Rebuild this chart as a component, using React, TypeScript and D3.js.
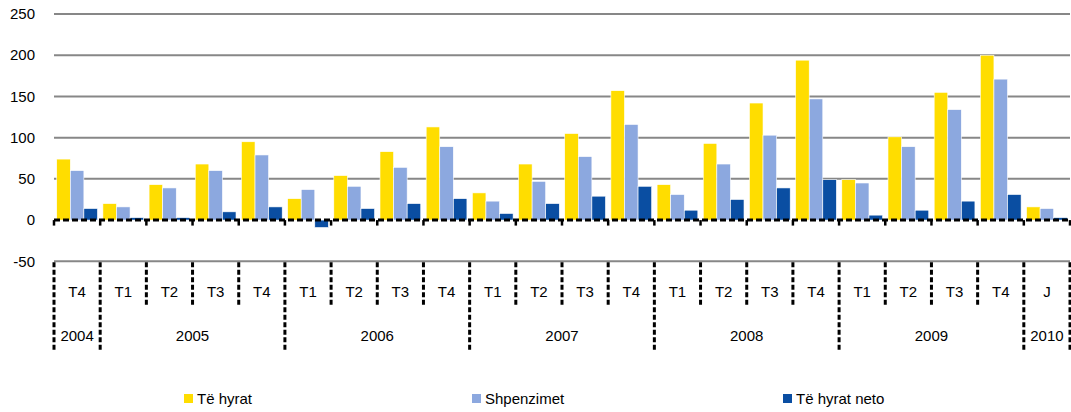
import React from "react";
import * as d3 from "d3";

const quarters = ["T4","T1","T2","T3","T4","T1","T2","T3","T4","T1","T2","T3","T4","T1","T2","T3","T4","T1","T2","T3","T4","J"];
const yearLabels = ["2004","2005","2006","2007","2008","2009","2010"];
const yearSpans = [1, 4, 4, 4, 4, 4, 1];
const seriesNames = ["Të hyrat", "Shpenzimet", "Të hyrat neto"];
const teHyrat = [74,20,43,68,95,26,54,83,113,33,68,105,157,43,93,142,194,49,101,155,200,16];
const shpenzimet = [60,16,39,60,79,37,41,64,89,23,47,77,116,31,68,103,147,45,89,134,171,14];
const teHyratNeto = [14,3,3,10,16,-9,14,20,26,8,20,29,41,12,25,39,49,6,12,23,31,3];
const yTicks = [-50, 0, 50, 100, 150, 200, 250];

const colors = ["#FFDD00", "#8CA8DF", "#0A4EA2"];
const W = 1071, H = 412;
const left = 54, right = 1070;
const font = "'Liberation Sans', Arial, Helvetica, sans-serif";

export default function App() {
  const series = [teHyrat, shpenzimet, teHyratNeto];
  const idx = quarters.map((_, i) => i);
  const x = d3.scaleBand<number>().domain(idx).range([left, right]).paddingInner(0).paddingOuter(0);
  const bw = x.bandwidth();
  const xs = d3.scaleBand<number>().domain([0, 1, 2]).range([0, bw]).paddingInner(0).paddingOuter(0.2);
  const y = d3.scaleLinear().domain([-50, 250]).range([261.3, 14]);
  const y0 = y(0);
  const bottom = y(-50);

  const boundaries = d3.range(quarters.length + 1).map(i => left + i * bw);
  const yearBounds: number[] = [0];
  yearSpans.forEach(s => yearBounds.push(yearBounds[yearBounds.length - 1] + s));

  const legendX = [184, 472, 783];

  return (
    <svg width={W} height={H} style={{ position: "absolute", left: 0, top: 0, background: "#fff" }}>
      {/* gridlines */}
      {yTicks.filter(t => t !== 0).map(t => (
        <line key={t} x1={left} x2={right} y1={y(t)} y2={y(t)} stroke="#878787" strokeWidth={2} />
      ))}
      {/* y labels */}
      {yTicks.map(t => (
        <text key={t} x={35} y={y(t)} dy="0.35em" textAnchor="end" fontFamily={font} fontSize={15} fill="#000">{t}</text>
      ))}
      {/* bars */}
      {series.map((vals, si) => (
        <g key={si}>
          {vals.map((v, i) => {
            const bx = (x(i) as number) + (xs(si) as number);
            const top = Math.min(y(v), y0);
            const h = Math.abs(y(v) - y0);
            return <rect key={i} x={bx} y={top} width={xs.bandwidth()} height={h} fill={colors[si]} stroke="#fff" strokeWidth={0.6} />;
          })}
        </g>
      ))}
      {/* zero dashed line */}
      <line x1={left} x2={right} y1={y0} y2={y0} stroke="#000" strokeWidth={3} strokeDasharray="6,3" />
      {boundaries.map((bx, i) => (
        <line key={"t" + i} x1={bx} x2={bx} y1={y0} y2={y0 + 5.5} stroke="#000" strokeWidth={2.5} />
      ))}
      {/* quarter separators */}
      {boundaries.map((bx, i) => {
        const isYear = yearBounds.includes(i);
        return (
          <line key={"q" + i} x1={bx} x2={bx} y1={bottom + 1} y2={isYear ? 350 : 305} stroke="#000" strokeWidth={3} strokeDasharray="5,2.5" />
        );
      })}
      {/* quarter labels */}
      {quarters.map((q, i) => (
        <text key={"ql" + i} x={(x(i) as number) + bw / 2} y={292} dy="0.35em" textAnchor="middle" fontFamily={font} fontSize={15} fill="#000">{q}</text>
      ))}
      {/* year labels */}
      {yearLabels.map((yl, i) => {
        const cx = left + ((yearBounds[i] + yearBounds[i + 1]) / 2) * bw;
        return (
          <text key={"yl" + i} x={cx} y={336} dy="0.35em" textAnchor="middle" fontFamily={font} fontSize={15} fill="#000">{yl}</text>
        );
      })}
      {/* legend */}
      {seriesNames.map((n, i) => (
        <g key={"lg" + i}>
          <rect x={legendX[i]} y={394} width={9} height={9} fill={colors[i]} />
          <text x={legendX[i] + 13} y={398.5} dy="0.35em" fontFamily={font} fontSize={15} fill="#000">{n}</text>
        </g>
      ))}
    </svg>
  );
}
